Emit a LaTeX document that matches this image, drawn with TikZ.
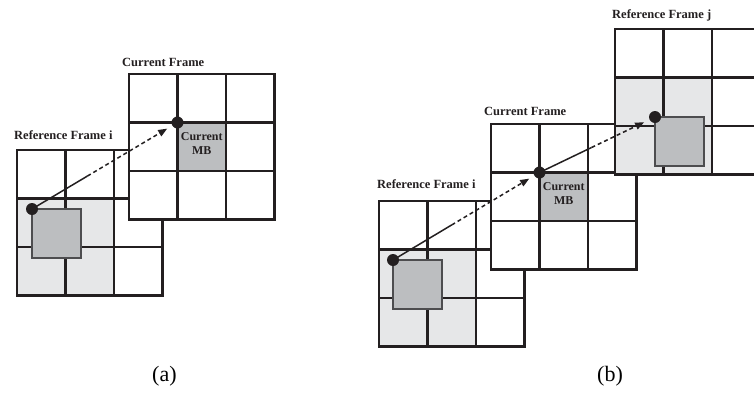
\documentclass[tikz,border=0pt]{standalone}
\usepackage{fontspec}
\setmainfont{Liberation Serif}
\usetikzlibrary{arrows.meta,calc}
\definecolor{gridc}{HTML}{231F20}
\definecolor{lightg}{HTML}{E6E7E8}
\definecolor{mbg}{HTML}{BCBEC0}
\definecolor{blkline}{HTML}{4D4D4F}
\newcommand\cellgrid{%
  \fill[white] (0,0) rectangle (145.5,145.5);}
\newcommand\gridlines{%
  \foreach \q in {48.5,97}{\draw[gridline] (\q,0) -- (\q,145.5); \draw[gridline] (0,\q) -- (145.5,\q);}
  \draw[gridline] (0,0) rectangle (145.5,145.5);}
\newcommand\refframe[5]{% x, y, dot name, block x, block y
  \begin{scope}[shift={(#1,#2)}]
    \cellgrid
    \fill[lightg] (0,48.5) rectangle (97,145.5);
    \gridlines
    \draw[blk] (#4,#5) rectangle ++(49,49);
    \coordinate (#3) at (#4,#5);
  \end{scope}}
\newcommand\curframe[3]{% x, y, dot name
  \begin{scope}[shift={(#1,#2)}]
    \cellgrid
    \fill[mbg] (48.5,48.5) rectangle (97,97);
    \gridlines
    \coordinate (#3) at (48.5,48.5);
    \node[mbtext] (#3txt) at (72.75,58.5) {Current\\MB};
  \end{scope}}
\begin{document}
\begin{tikzpicture}[x=1pt,y=-1pt,
  gridline/.style={draw=gridc, line width=2.2pt},
  blk/.style={draw=blkline, fill=mbg, line width=1.3pt},
  mbtext/.style={anchor=north, inner sep=0pt, align=center, font=\fontsize{12}{13.5}\selectfont\bfseries, text=gridc},
  flabel/.style={anchor=base west, inner sep=0pt, font=\fontsize{12.5}{14}\selectfont\bfseries, text=gridc},
  caption/.style={anchor=base west, inner sep=0pt, font=\fontsize{22}{24}\selectfont},
  vec/.style={draw=gridc, line width=1.5pt},
  vecd/.style={vec, dash pattern=on 4pt off 3pt, -{Triangle[length=9pt,width=7pt]}, shorten >=12pt},
  dot/.style={fill=gridc}]
\useasboundingbox (0,0) rectangle (754,392);
% ---------- (a) ----------
\refframe{17}{150}{ai}{15}{59}
\curframe{129}{74}{am}
\node[flabel] (labai) at (14,139) {Reference Frame i};
\node[flabel] (labam) at (122,66) {Current Frame};
\coordinate (amid) at ($(ai)!0.38!(am)$);
\draw[vec] (ai) -- (amid);
\draw[vecd] (amid) -- (am);
\fill[dot] (ai) circle (6pt);
\fill[dot] (am) circle (6pt);
\node[caption] (capa) at (152,381) {(a)};
% ---------- (b) ----------
\refframe{379}{201}{bi}{14}{59}
\curframe{491}{124}{bm}
\refframe{615}{29}{bj}{40}{88}
\node[flabel] (labbi) at (377,188) {Reference Frame i};
\node[flabel] (labbm) at (484,115.5) {Current Frame};
\node[flabel] (labbj) at (612,18) {Reference Frame j};
\coordinate (bmid1) at ($(bi)!0.4!(bm)$);
\draw[vec] (bi) -- (bmid1);
\draw[vecd] (bmid1) -- (bm);
\coordinate (bmid2) at ($(bm)!0.45!(bj)$);
\draw[vec] (bm) -- (bmid2);
\draw[vecd] (bmid2) -- (bj);
\fill[dot] (bi) circle (6pt);
\fill[dot] (bm) circle (6pt);
\fill[dot] (bj) circle (6pt);
\node[caption] (capb) at (597,381) {(b)};
\end{tikzpicture}
\end{document}
